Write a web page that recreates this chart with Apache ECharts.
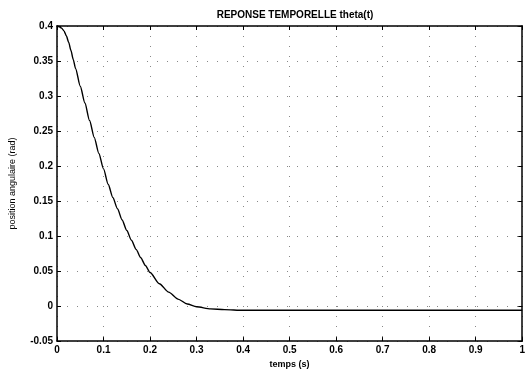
<!DOCTYPE html>
<html><head><meta charset="utf-8">
<script src="https://cdn.jsdelivr.net/npm/echarts@6/dist/echarts.min.js"></script>
<style>html,body{margin:0;padding:0;background:#fff}#c{width:528px;height:374px}</style>
</head><body><div id="c"></div>
<script>
var titleText = 'REPONSE TEMPORELLE theta(t)';
var xName = 'temps (s)';
var yName = 'position angulaire (rad)';
var timeValues = [0,0.005,0.01,0.015,0.02,0.025,0.03,0.035,0.04,0.05,0.06,0.07,0.08,0.09,0.10,0.11,0.12,0.13,0.14,0.15,0.16,0.17,0.18,0.19,0.20,0.22,0.24,0.26,0.28,0.30,0.33,0.36,0.40,0.50,0.60,0.70,0.80,0.90,1.00];
var thetaValues = [0.400,0.399,0.397,0.393,0.386,0.377,0.365,0.352,0.339,0.314,0.290,0.265,0.241,0.218,0.196,0.174,0.155,0.139,0.123,0.108,0.094,0.081,0.069,0.058,0.048,0.032,0.020,0.010,0.003,-0.001,-0.004,-0.005,-0.006,-0.006,-0.006,-0.006,-0.006,-0.006,-0.006];

var font = 'Liberation Sans, Arial, sans-serif';
var data = timeValues.map(function(t,i){return [t, thetaValues[i]];});
var chart = echarts.init(document.getElementById('c'));
var tickIn = {show:true, inside:true, length:4, lineStyle:{color:'#000', width:1}};
var gridDots = {show:true, lineStyle:{color:'#888', type:[1,9], width:1}};
chart.setOption({
  animation:false,
  backgroundColor:'#fff',
  title:{text:titleText, left:290, top:5, textAlign:'center',
    textStyle:{fontFamily:font, fontSize:10, fontWeight:'bold', color:'#000'}},
  grid:{left:55, right:3, top:26, bottom:31},
  xAxis:[{type:'value', min:0, max:1, interval:0.1, position:'bottom',
    name:xName, nameLocation:'middle', nameGap:16,
    nameTextStyle:{fontFamily:font, fontSize:9, fontWeight:'bold', color:'#000'},
    axisLine:{show:true, onZero:false, lineStyle:{color:'#000', width:1.5}},
    axisTick:tickIn,
    axisLabel:{fontFamily:font, fontSize:10, fontWeight:'bold', color:'#000', margin:4},
    splitLine:gridDots},
   {type:'value', min:0, max:1, interval:0.1, position:'top',
    axisLine:{show:true, onZero:false, lineStyle:{color:'#000', width:1.5}},
    axisTick:tickIn, axisLabel:{show:false}, splitLine:{show:false}}],
  yAxis:[{type:'value', min:-0.05, max:0.4, interval:0.05, position:'left',
    name:yName, nameLocation:'middle', nameGap:40, nameRotate:90,
    nameTextStyle:{fontFamily:font, fontSize:9, color:'#000'},
    axisLine:{show:true, onZero:false, lineStyle:{color:'#000', width:1.5}},
    axisTick:tickIn,
    axisLabel:{fontFamily:font, fontSize:10, fontWeight:'bold', color:'#000', margin:4},
    splitLine:gridDots},
   {type:'value', min:-0.05, max:0.4, interval:0.05, position:'right',
    axisLine:{show:true, onZero:false, lineStyle:{color:'#000', width:1.5}},
    axisTick:tickIn, axisLabel:{show:false}, splitLine:{show:false}}],
  series:[{type:'line', data:data, showSymbol:false, smooth:0.25, smoothMonotone:'x',
    lineStyle:{color:'#000', width:1.4}}]
});
</script></body></html>
